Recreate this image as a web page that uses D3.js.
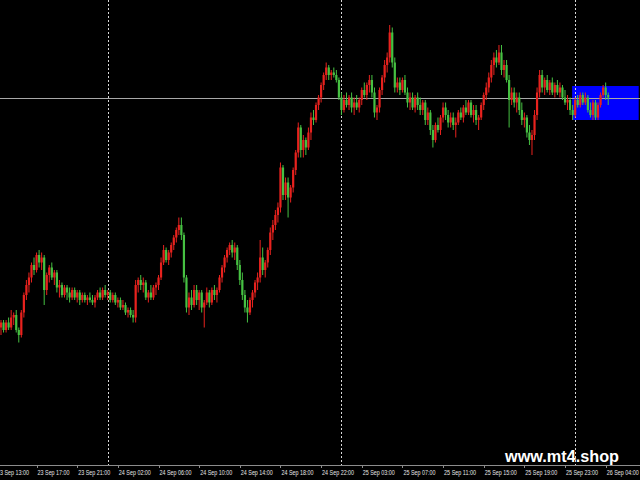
<!DOCTYPE html>
<html><head><meta charset="utf-8">
<script src="https://cdn.jsdelivr.net/npm/d3@7"></script>
<style>html,body{margin:0;padding:0;background:#000;}svg{display:block;}</style>
</head><body>
<svg id="chart" width="640" height="480"></svg>
<script>
// M15 bars, prices
const open = [1.1705,1.1707,1.1704,1.1707,1.1705,1.1709,1.1710,1.1704,1.1702,1.1711,
1.1718,1.1722,1.1725,1.1730,1.1728,1.1734,1.1731,1.1733,1.1720,1.1726,
1.1729,1.1725,1.1727,1.1721,1.1722,1.1718,1.1721,1.1719,1.1717,1.1720,
1.1717,1.1719,1.1716,1.1718,1.1716,1.1717,1.1716,1.1715,1.1717,1.1719,
1.1717,1.1720,1.1718,1.1719,1.1716,1.1718,1.1715,1.1716,1.1713,1.1714,
1.1711,1.1712,1.1710,1.1709,1.1722,1.1724,1.1722,1.1723,1.1717,1.1719,
1.1717,1.1721,1.1722,1.1725,1.1731,1.1736,1.1732,1.1735,1.1738,1.1741,
1.1744,1.1746,1.1742,1.1725,1.1713,1.1717,1.1714,1.1720,1.1716,1.1719,
1.1713,1.1715,1.1719,1.1715,1.1720,1.1718,1.1720,1.1725,1.1729,1.1733,
1.1736,1.1738,1.1735,1.1737,1.1730,1.1724,1.1718,1.1713,1.1711,1.1716,
1.1719,1.1723,1.1725,1.1733,1.1728,1.1731,1.1736,1.1743,1.1746,1.1750,
1.1753,1.1769,1.1758,1.1763,1.1757,1.1761,1.1768,1.1775,1.1785,1.1776,
1.1780,1.1777,1.1783,1.1789,1.1788,1.1794,1.1797,1.1802,1.1806,1.1809,
1.1806,1.1807,1.1806,1.1804,1.1797,1.1792,1.1796,1.1794,1.1797,1.1793,
1.1795,1.1793,1.1796,1.1800,1.1798,1.1802,1.1804,1.1799,1.1791,1.1793,
1.1800,1.1805,1.1810,1.1813,1.1823,1.1811,1.1801,1.1803,1.1800,1.1804,
1.1799,1.1795,1.1797,1.1793,1.1797,1.1794,1.1792,1.1795,1.1788,1.1791,
1.1784,1.1780,1.1786,1.1784,1.1789,1.1793,1.1790,1.1787,1.1789,1.1786,
1.1787,1.1791,1.1789,1.1793,1.1791,1.1795,1.1790,1.1792,1.1788,1.1789,
1.1794,1.1798,1.1801,1.1805,1.1810,1.1813,1.1811,1.1815,1.1808,1.1810,
1.1804,1.1796,1.1799,1.1795,1.1797,1.1792,1.1788,1.1789,1.1783,1.1780,
1.1782,1.1790,1.1799,1.1806,1.1801,1.1804,1.1800,1.1803,1.1799,1.1802,
1.1799,1.1801,1.1797,1.1795,1.1796,1.1792,1.1790,1.1796,1.1794,1.1798,
1.1795,1.1797,1.1792,1.1790,1.1795,1.1789,1.1794,1.1798,1.1801,1.1798];
const high = [1.1708,1.1708,1.1708,1.1709,1.1712,1.1711,1.1712,1.1705,1.1712,1.1719,
1.1724,1.1727,1.1731,1.1733,1.1735,1.1736,1.1735,1.1734,1.1727,1.1730,
1.1731,1.1728,1.1728,1.1724,1.1723,1.1722,1.1722,1.1721,1.1721,1.1721,
1.1720,1.1720,1.1719,1.1719,1.1718,1.1719,1.1718,1.1718,1.1720,1.1721,
1.1721,1.1722,1.1720,1.1720,1.1719,1.1719,1.1717,1.1717,1.1716,1.1715,
1.1713,1.1713,1.1712,1.1724,1.1725,1.1726,1.1725,1.1724,1.1720,1.1722,
1.1722,1.1723,1.1726,1.1733,1.1738,1.1737,1.1736,1.1739,1.1742,1.1745,
1.1749,1.1749,1.1743,1.1726,1.1719,1.1720,1.1722,1.1722,1.1720,1.1720,
1.1716,1.1721,1.1720,1.1721,1.1722,1.1721,1.1726,1.1730,1.1734,1.1737,
1.1739,1.1740,1.1739,1.1738,1.1732,1.1727,1.1720,1.1716,1.1717,1.1720,
1.1724,1.1727,1.1740,1.1737,1.1732,1.1737,1.1745,1.1748,1.1752,1.1755,
1.1771,1.1770,1.1765,1.1765,1.1762,1.1769,1.1776,1.1787,1.1786,1.1782,
1.1781,1.1785,1.1791,1.1792,1.1795,1.1798,1.1803,1.1807,1.1811,1.1810,
1.1808,1.1809,1.1808,1.1805,1.1799,1.1798,1.1799,1.1798,1.1799,1.1797,
1.1798,1.1797,1.1801,1.1803,1.1803,1.1806,1.1806,1.1801,1.1794,1.1801,
1.1806,1.1812,1.1815,1.1826,1.1825,1.1813,1.1805,1.1805,1.1805,1.1806,
1.1801,1.1799,1.1799,1.1798,1.1799,1.1797,1.1796,1.1796,1.1793,1.1792,
1.1786,1.1787,1.1789,1.1790,1.1795,1.1795,1.1792,1.1791,1.1791,1.1789,
1.1792,1.1793,1.1794,1.1796,1.1796,1.1796,1.1794,1.1794,1.1790,1.1795,
1.1799,1.1803,1.1807,1.1812,1.1815,1.1816,1.1818,1.1818,1.1812,1.1812,
1.1806,1.1801,1.1801,1.1799,1.1799,1.1795,1.1791,1.1790,1.1786,1.1784,
1.1792,1.1801,1.1808,1.1808,1.1805,1.1806,1.1804,1.1805,1.1803,1.1804,
1.1803,1.1802,1.1800,1.1798,1.1797,1.1794,1.1797,1.1798,1.1799,1.1799,
1.1799,1.1798,1.1795,1.1796,1.1796,1.1795,1.1799,1.1802,1.1803,1.1799];
const low = [1.1702,1.1703,1.1703,1.1704,1.1704,1.1706,1.1703,1.1699,1.1701,1.1709,
1.1716,1.1719,1.1723,1.1726,1.1727,1.1729,1.1728,1.1714,1.1718,1.1723,
1.1724,1.1722,1.1719,1.1717,1.1717,1.1717,1.1716,1.1715,1.1716,1.1716,
1.1715,1.1714,1.1715,1.1715,1.1714,1.1715,1.1714,1.1713,1.1716,1.1716,
1.1716,1.1717,1.1716,1.1715,1.1715,1.1714,1.1713,1.1712,1.1712,1.1710,
1.1709,1.1709,1.1707,1.1707,1.1719,1.1720,1.1719,1.1716,1.1715,1.1716,
1.1716,1.1718,1.1720,1.1724,1.1730,1.1731,1.1730,1.1733,1.1736,1.1739,
1.1742,1.1740,1.1723,1.1711,1.1710,1.1712,1.1713,1.1714,1.1712,1.1711,
1.1705,1.1714,1.1713,1.1714,1.1716,1.1715,1.1719,1.1723,1.1727,1.1731,
1.1734,1.1733,1.1732,1.1728,1.1722,1.1716,1.1711,1.1707,1.1710,1.1713,
1.1717,1.1720,1.1723,1.1726,1.1725,1.1729,1.1734,1.1740,1.1744,1.1747,
1.1751,1.1756,1.1756,1.1749,1.1755,1.1759,1.1766,1.1773,1.1773,1.1773,
1.1774,1.1776,1.1780,1.1786,1.1787,1.1792,1.1795,1.1800,1.1804,1.1804,
1.1804,1.1805,1.1803,1.1796,1.1790,1.1791,1.1793,1.1792,1.1791,1.1790,
1.1792,1.1791,1.1794,1.1797,1.1796,1.1799,1.1797,1.1789,1.1788,1.1791,
1.1798,1.1803,1.1807,1.1811,1.1809,1.1799,1.1799,1.1798,1.1799,1.1798,
1.1793,1.1792,1.1792,1.1791,1.1792,1.1790,1.1790,1.1786,1.1786,1.1782,
1.1777,1.1779,1.1783,1.1782,1.1787,1.1788,1.1785,1.1785,1.1784,1.1781,
1.1786,1.1788,1.1787,1.1790,1.1790,1.1789,1.1787,1.1786,1.1784,1.1788,
1.1792,1.1796,1.1799,1.1803,1.1806,1.1809,1.1810,1.1806,1.1805,1.1803,
1.1785,1.1794,1.1793,1.1791,1.1790,1.1786,1.1785,1.1781,1.1778,1.1774,
1.1780,1.1788,1.1797,1.1799,1.1798,1.1799,1.1798,1.1798,1.1797,1.1798,
1.1797,1.1796,1.1794,1.1792,1.1790,1.1788,1.1789,1.1793,1.1793,1.1794,
1.1794,1.1791,1.1789,1.1788,1.1788,1.1788,1.1793,1.1797,1.1796,1.1794];
const close = [1.1707,1.1704,1.1707,1.1705,1.1709,1.1710,1.1704,1.1702,1.1711,1.1718,
1.1722,1.1725,1.1730,1.1728,1.1734,1.1731,1.1733,1.1720,1.1726,1.1729,
1.1725,1.1727,1.1721,1.1722,1.1718,1.1721,1.1719,1.1717,1.1720,1.1717,
1.1719,1.1716,1.1718,1.1716,1.1717,1.1716,1.1715,1.1717,1.1719,1.1717,
1.1720,1.1718,1.1719,1.1716,1.1718,1.1715,1.1716,1.1713,1.1714,1.1711,
1.1712,1.1710,1.1709,1.1722,1.1724,1.1722,1.1723,1.1717,1.1719,1.1717,
1.1721,1.1722,1.1725,1.1731,1.1736,1.1732,1.1735,1.1738,1.1741,1.1744,
1.1746,1.1742,1.1725,1.1713,1.1717,1.1714,1.1720,1.1716,1.1719,1.1713,
1.1715,1.1719,1.1715,1.1720,1.1718,1.1720,1.1725,1.1729,1.1733,1.1736,
1.1738,1.1735,1.1737,1.1730,1.1724,1.1718,1.1713,1.1711,1.1716,1.1719,
1.1723,1.1725,1.1733,1.1728,1.1731,1.1736,1.1743,1.1746,1.1750,1.1753,
1.1769,1.1758,1.1763,1.1757,1.1761,1.1768,1.1775,1.1785,1.1776,1.1780,
1.1777,1.1783,1.1789,1.1788,1.1794,1.1797,1.1802,1.1806,1.1809,1.1806,
1.1807,1.1806,1.1804,1.1797,1.1792,1.1796,1.1794,1.1797,1.1793,1.1795,
1.1793,1.1796,1.1800,1.1798,1.1802,1.1804,1.1799,1.1791,1.1793,1.1800,
1.1805,1.1810,1.1813,1.1823,1.1811,1.1801,1.1803,1.1800,1.1804,1.1799,
1.1795,1.1797,1.1793,1.1797,1.1794,1.1792,1.1795,1.1788,1.1791,1.1784,
1.1780,1.1786,1.1784,1.1789,1.1793,1.1790,1.1787,1.1789,1.1786,1.1787,
1.1791,1.1789,1.1793,1.1791,1.1795,1.1790,1.1792,1.1788,1.1789,1.1794,
1.1798,1.1801,1.1805,1.1810,1.1813,1.1811,1.1815,1.1808,1.1810,1.1804,
1.1796,1.1799,1.1795,1.1797,1.1792,1.1788,1.1789,1.1783,1.1780,1.1782,
1.1790,1.1799,1.1806,1.1801,1.1804,1.1800,1.1803,1.1799,1.1802,1.1799,
1.1801,1.1797,1.1795,1.1796,1.1792,1.1790,1.1796,1.1794,1.1798,1.1795,
1.1797,1.1792,1.1790,1.1795,1.1789,1.1794,1.1798,1.1801,1.1798,1.1797];

const timeLabels = ["23 Sep 13:00","23 Sep 17:00","23 Sep 21:00","24 Sep 02:00","24 Sep 06:00",
  "24 Sep 10:00","24 Sep 14:00","24 Sep 18:00","24 Sep 22:00","25 Sep 03:00","25 Sep 07:00",
  "25 Sep 11:00","25 Sep 15:00","25 Sep 19:00","25 Sep 23:00","26 Sep 04:00"];
const labelBars = [-2,14,30,46,62,78,94,110,126,142,158,174,190,206,222,238];
const daySeparatorBars = [42,134,226];
const bidPrice = 1.1797;
const zone = {startBar: 224.8, endBar: 251, top: 1.18016, bottom: 1.1788};
const watermark = "www.mt4.shop";

const svg = d3.select("#chart");
svg.append("rect").attr("width",640).attr("height",480).attr("fill","#000");

const barStep = 2.5406;
const x = d3.scaleLinear().domain([0, close.length - 1]).range([1, 1 + (close.length - 1) * barStep]);
const y = d3.scaleLinear().domain([1.1650, 1.1836]).range([465, 0]);

// blue zone rectangle
svg.append("rect")
  .attr("x", x(zone.startBar)).attr("width", x(zone.endBar) - x(zone.startBar))
  .attr("y", y(zone.top)).attr("height", y(zone.bottom) - y(zone.top))
  .attr("fill", "#0000ff");

// day separators
svg.selectAll("line.sep").data(daySeparatorBars).enter().append("line")
  .attr("class","sep")
  .attr("x1", d => Math.round(x(d)) + 0.5).attr("x2", d => Math.round(x(d)) + 0.5)
  .attr("y1", 0).attr("y2", 465)
  .attr("stroke", "#d8d8d8").attr("stroke-width", 1).attr("stroke-dasharray", "2,2");

// bid line
svg.append("line").attr("x1",0).attr("x2",640)
  .attr("y1", Math.round(y(bidPrice)) + 0.5).attr("y2", Math.round(y(bidPrice)) + 0.5)
  .attr("stroke","#a8a8a8").attr("stroke-width",1);

const bars = d3.range(close.length).map(i => ({i, o: open[i], h: high[i], l: low[i], c: close[i]}));
const upCol = "#e8221e", downCol = "#46c042";
const g = svg.append("g");
g.selectAll("line.wick").data(bars).enter().append("line")
  .attr("class","wick")
  .attr("x1", d => x(d.i)).attr("x2", d => x(d.i))
  .attr("y1", d => y(d.h)).attr("y2", d => y(d.l))
  .attr("stroke", d => d.c >= d.o ? upCol : downCol).attr("stroke-width", 1);
g.selectAll("rect.body").data(bars).enter().append("rect")
  .attr("class","body")
  .attr("x", d => x(d.i) - 1.1).attr("width", 2.2)
  .attr("y", d => y(Math.max(d.o, d.c)))
  .attr("height", d => Math.max(1, Math.abs(y(d.o) - y(d.c))))
  .attr("fill", d => d.c >= d.o ? upCol : downCol);

// time axis
svg.append("line").attr("x1",0).attr("x2",640).attr("y1",465.5).attr("y2",465.5)
  .attr("stroke","#8c8c8c").attr("stroke-width",1);
svg.selectAll("line.tick").data(labelBars).enter().append("line")
  .attr("class","tick")
  .attr("x1", d => Math.round(x(d)) + 0.5).attr("x2", d => Math.round(x(d)) + 0.5)
  .attr("y1", 465).attr("y2", 468)
  .attr("stroke","#8c8c8c");
svg.selectAll("text.tl").data(labelBars).enter().append("text")
  .attr("class","tl")
  .attr("x", d => x(d) + 1).attr("y", 474.5)
  .attr("font-family","'Liberation Sans', Arial, sans-serif").attr("font-size", 7)
  .attr("textLength", 32).attr("lengthAdjust","spacingAndGlyphs")
  .attr("fill","#e6e6e6")
  .text((d, k) => timeLabels[k]);

// watermark
svg.append("text").attr("x", 505).attr("y", 461.5)
  .attr("font-family","'Liberation Sans', Arial, sans-serif").attr("font-weight","bold")
  .attr("font-size", 16).attr("textLength", 114).attr("lengthAdjust","spacingAndGlyphs")
  .attr("fill","#ffffff").text(watermark);
</script>
</body></html>
